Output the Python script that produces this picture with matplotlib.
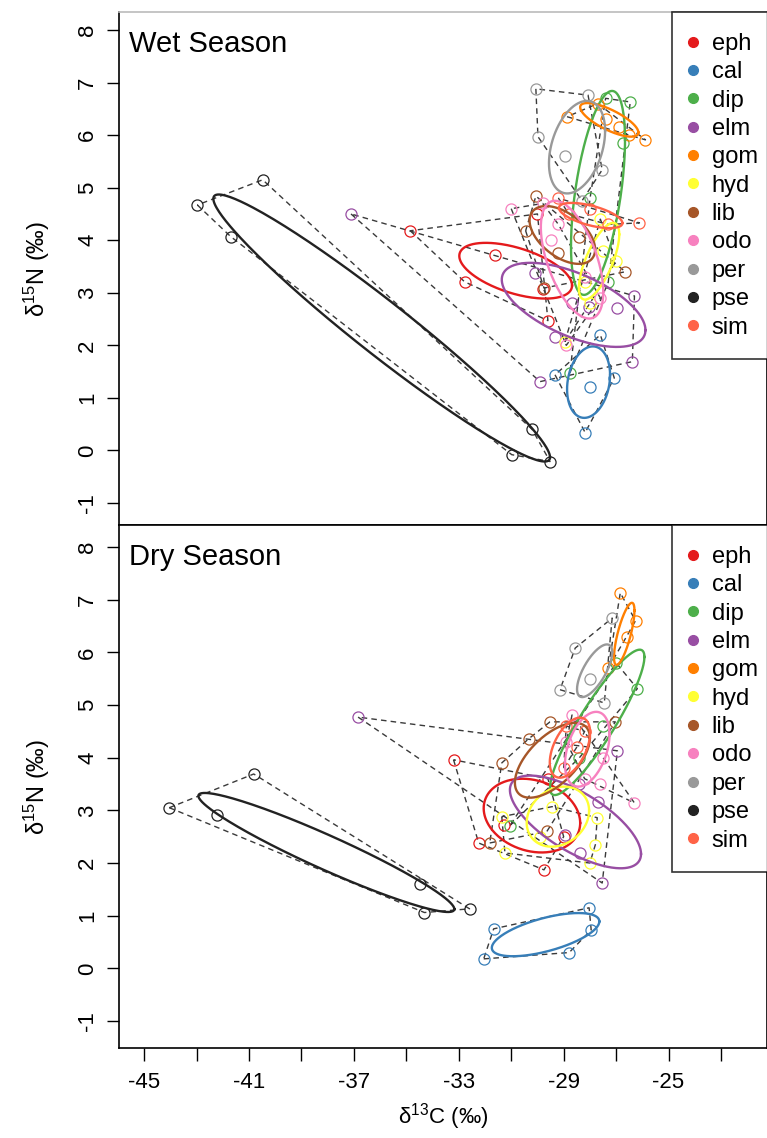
import matplotlib
matplotlib.use("Agg")
import matplotlib.pyplot as plt
import numpy as np

plt.rcParams['font.family'] = ['Liberation Sans', 'DejaVu Sans']
plt.rcParams['mathtext.fontset'] = 'custom'
plt.rcParams['mathtext.rm'] = 'Liberation Sans'

species = ['eph', 'cal', 'dip', 'elm', 'gom', 'hyd', 'lib', 'odo', 'per', 'pse', 'sim']
colors = ['#E41A1C', '#377EB8', '#4DAF4A', '#984EA3', '#FF7F00', '#FFFF33',
          '#A65628', '#F781BF', '#999999', '#222222', '#FF6347']

# raw samples (d13C, d15N) per group, wet season
wet_pts = {
    'eph': [(-34.85, 4.18), (-31.63, 3.72), (-32.78, 3.21), (-29.79, 3.08), (-29.6, 2.47), (-30.0, 4.5)],
    'cal': [(-27.6, 2.2), (-29.33, 1.44), (-27.99, 1.21), (-27.07, 1.38), (-28.18, 0.34)],
    'dip': [(-26.46, 6.63), (-26.72, 5.85), (-27.99, 4.81), (-28.76, 1.48), (-27.4, 6.7), (-27.3, 3.2)],
    'elm': [(-37.11, 4.5), (-29.9, 1.31), (-26.38, 1.69), (-26.3, 2.94), (-26.95, 2.71),
            (-28.03, 2.73), (-28.68, 2.81), (-30.1, 3.38), (-29.33, 2.16)],
    'gom': [(-28.87, 6.35), (-25.88, 5.91), (-26.9, 6.15), (-27.4, 6.3), (-27.7, 6.6), (-26.5, 6.0)],
    'hyd': [(-28.95, 2.07), (-27.5, 3.8), (-27.0, 3.6), (-28.0, 2.8), (-27.6, 4.4), (-28.2, 3.2)],
    'lib': [(-30.06, 4.84), (-30.45, 4.18), (-28.41, 4.06), (-29.75, 3.09), (-26.65, 3.4), (-29.2, 3.75)],
    'odo': [(-31.0, 4.6), (-29.2, 4.3), (-29.5, 4.0), (-28.9, 2.0), (-27.6, 2.9), (-28.2, 3.3), (-29.8, 4.7)],
    'per': [(-30.06, 6.88), (-29.98, 5.97), (-28.95, 5.6), (-28.07, 6.76), (-27.53, 5.34), (-28.3, 4.75)],
    'pse': [(-42.97, 4.67), (-40.48, 5.15), (-41.7, 4.07), (-30.2, 0.40), (-30.98, -0.08), (-29.52, -0.21)],
    'sim': [(-26.11, 4.33), (-29.2, 4.8), (-28.0, 4.6), (-27.3, 4.3), (-28.8, 4.5)],
}

# dry season
dry_pts = {
    'eph': [(-33.2, 3.96), (-32.24, 2.38), (-31.28, 2.72), (-29.75, 1.87), (-29.0, 2.5), (-29.6, 3.6)],
    'cal': [(-28.03, 1.15), (-27.95, 0.73), (-28.79, 0.30), (-31.67, 0.75), (-32.05, 0.18)],
    'dip': [(-26.19, 5.31), (-31.05, 2.71), (-27.0, 5.8), (-28.4, 4.0), (-27.5, 4.6)],
    'elm': [(-36.84, 4.77), (-26.95, 4.13), (-27.53, 1.62), (-28.95, 2.54), (-28.37, 2.19),
            (-27.7, 3.16), (-28.4, 3.5)],
    'gom': [(-26.84, 7.13), (-26.26, 6.6), (-27.3, 5.7), (-26.6, 6.3)],
    'hyd': [(-31.36, 2.88), (-31.24, 2.19), (-27.79, 2.35), (-27.72, 2.86), (-29.44, 3.07),
            (-28.0, 2.0), (-29.9, 2.5)],
    'lib': [(-29.52, 4.68), (-30.33, 4.36), (-31.36, 3.9), (-27.03, 4.68), (-29.64, 2.6), (-31.82, 2.38)],
    'odo': [(-26.3, 3.14), (-28.68, 4.81), (-28.2, 3.6), (-27.5, 4.0), (-28.9, 4.3), (-27.6, 3.5)],
    'per': [(-28.56, 6.08), (-29.14, 5.29), (-27.15, 6.65), (-27.45, 5.04), (-28.0, 5.5)],
    'pse': [(-44.04, 3.05), (-40.82, 3.69), (-42.24, 2.91), (-34.46, 1.61), (-34.31, 1.06), (-32.59, 1.13)],
    'sim': [(-28.2, 4.5), (-29.0, 3.8), (-28.5, 4.2), (-28.9, 4.6)],
}

# standard ellipses: centre x, centre y, sd x, sd y, correlation
wet_ell = {
    'eph': (-30.83, 3.42, 2.15, 0.53, -0.53),
    'cal': (-28.05, 1.30, 0.82, 0.68, 0.2),
    'dip': (-27.69, 4.90, 1.03, 1.94, 0.52),
    'elm': (-28.62, 2.77, 2.74, 0.80, -0.6),
    'gom': (-27.26, 6.29, 1.11, 0.32, -0.75),
    'hyd': (-27.65, 3.60, 0.77, 0.73, 0.7),
    'lib': (-29.05, 4.10, 1.25, 0.55, -0.5),
    'odo': (-28.68, 3.63, 1.19, 1.12, -0.55),
    'per': (-28.49, 5.77, 1.07, 0.88, 0.35),
    'pse': (-35.94, 2.33, 6.42, 2.54, -0.968),
    'sim': (-27.97, 4.47, 1.21, 0.24, -0.6),
}

dry_ell = {
    'eph': (-30.21, 2.90, 1.84, 0.70, -0.2),
    'cal': (-29.69, 0.64, 2.05, 0.41, 0.61),
    'dip': (-27.72, 4.67, 1.80, 1.38, 0.9),
    'elm': (-28.55, 2.78, 2.50, 0.88, -0.69),
    'gom': (-26.69, 6.35, 0.39, 0.59, 0.75),
    'hyd': (-29.22, 2.88, 1.19, 0.57, 0.2),
    'lib': (-29.43, 3.95, 1.43, 0.71, 0.6),
    'odo': (-28.10, 4.16, 0.85, 0.71, 0.4),
    'per': (-27.82, 5.65, 0.67, 0.50, 0.7),
    'pse': (-38.05, 2.20, 4.88, 1.13, -0.95),
    'sim': (-28.76, 4.19, 0.77, 0.57, 0.5),
}

panel_titles = ['Wet Season', 'Dry Season']
xticks = np.arange(-45, -22, 2)
xlabels = ['-45', '', '-41', '', '-37', '', '-33', '', '-29', '', '-25', '']
yticks = np.arange(-1, 9)


def hull(pts):
    p = sorted(set(pts))
    if len(p) < 3:
        return p

    def cross(o, a, b):
        return (a[0] - o[0]) * (b[1] - o[1]) - (a[1] - o[1]) * (b[0] - o[0])
    lower, upper = [], []
    for q in p:
        while len(lower) >= 2 and cross(lower[-2], lower[-1], q) <= 0:
            lower.pop()
        lower.append(q)
    for q in reversed(p):
        while len(upper) >= 2 and cross(upper[-2], upper[-1], q) <= 0:
            upper.pop()
        upper.append(q)
    return lower[:-1] + upper[:-1]


def draw_panel(ax, pts, ell, title):
    t = np.linspace(0, 2 * np.pi, 300)
    for sp, col in zip(species, colors):
        xy = np.array(pts[sp])
        h = np.array(hull(pts[sp]) + [hull(pts[sp])[0]])
        ax.plot(h[:, 0], h[:, 1], color='#3a3a3a', lw=1.0, ls=(0, (4, 3)), zorder=2)
        ax.plot(xy[:, 0], xy[:, 1], 'o', mfc='none', mec=col, ms=8, mew=0.9, zorder=3)
    for sp, col in zip(species, colors):
        cx, cy, sx, sy, r = ell[sp]
        ex = cx + sx * np.cos(t)
        ey = cy + sy * (r * np.cos(t) + np.sqrt(1 - r ** 2) * np.sin(t))
        ax.plot(ex, ey, color=col, lw=1.7, zorder=4)
    handles = [ax.plot([], [], 'o', color=c, ms=7)[0] for c in colors]
    leg = ax.legend(handles, species, loc='upper left', bbox_to_anchor=(0.853, 0, 0.3, 1),
                    mode='expand', borderaxespad=0, fontsize=17, frameon=True, fancybox=False,
                    handlelength=0.01, handletextpad=0.8, labelspacing=0.27, borderpad=0.88)
    leg.get_frame().set_edgecolor('black')
    leg.get_frame().set_linewidth(1.2)
    ax.text(0.015, 0.965, title, transform=ax.transAxes, fontsize=21, va='top', ha='left')
    ax.set_xlim(-45.96, -21.245)
    ax.set_yticks(yticks)
    ax.set_yticklabels([str(v) for v in yticks], rotation=90, va='center', fontsize=16)
    ax.tick_params(axis='y', length=9, width=1.0, pad=6)
    ax.set_ylabel(r'$\mathregular{\delta^{15}}$N (‰)', fontsize=17, labelpad=18)
    for s in ax.spines.values():
        s.set_linewidth(1.2)


fig = plt.figure(figsize=(7.67, 11.38), dpi=100)
ax1 = fig.add_axes([0.1551, 0.53866, 0.8449, 0.4508])
ax2 = fig.add_axes([0.1551, 0.07909, 0.8449, 0.45957])

draw_panel(ax1, wet_pts, wet_ell, panel_titles[0])
ax1.set_ylim(-1.418, 8.342)
ax1.set_xticks([])
ax1.spines['top'].set_color('#bbbbbb')

draw_panel(ax2, dry_pts, dry_ell, panel_titles[1])
ax2.set_ylim(-1.512, 8.417)
ax2.set_xticks(xticks)
ax2.set_xticklabels(xlabels, fontsize=16)
ax2.tick_params(axis='x', length=9, width=1.0, pad=8)
ax2.set_xlabel(r'$\mathregular{\delta^{13}}$C (‰)', fontsize=16, labelpad=6)

fig.savefig('out.png', dpi=100)
